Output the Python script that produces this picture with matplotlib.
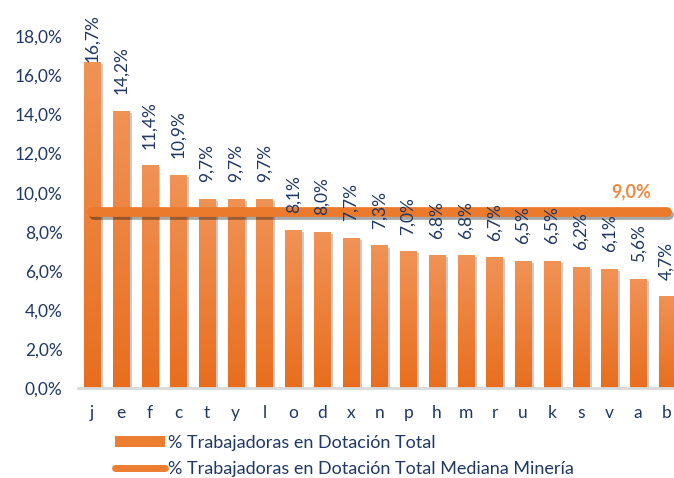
import numpy as np
import matplotlib
matplotlib.use('Agg')
import matplotlib.pyplot as plt
import matplotlib.patheffects as pe
from matplotlib.lines import Line2D
from matplotlib.patches import Patch

# datos
categorias = ['j', 'e', 'f', 'c', 't', 'y', 'l', 'o', 'd', 'x', 'n',
              'p', 'h', 'm', 'r', 'u', 'k', 's', 'v', 'a', 'b']
valores = [16.7, 14.2, 11.4, 10.9, 9.7, 9.7, 9.7, 8.1, 8.0, 7.7, 7.3,
           7.0, 6.8, 6.8, 6.7, 6.5, 6.5, 6.2, 6.1, 5.6, 4.7]
mediana = 9.0
y_ticks = [0, 2, 4, 6, 8, 10, 12, 14, 16, 18]

NAVY = '#1F3864'
ORANGE = '#ED7D31'

plt.rcParams['font.family'] = ['Lato', 'DejaVu Sans']

fig = plt.figure(figsize=(6.74, 4.78), dpi=100)
ax = fig.add_axes([0.1157, 0.188, 0.884, 0.736])

x = np.arange(len(categorias))
shadow = [pe.SimplePatchShadow(offset=(2, -1.5), alpha=0.25), pe.Normal()]
bars = ax.bar(x, valores, width=0.56, color=ORANGE, zorder=2, path_effects=shadow)

# degradado en las barras
grad = np.linspace(0, 1, 256).reshape(-1, 1)
cmap = matplotlib.colors.LinearSegmentedColormap.from_list('og', ['#E86E1E', '#F09356'])
for bar in bars:
    x0, y0 = bar.get_x(), bar.get_y()
    im = ax.imshow(grad, extent=(x0, x0 + bar.get_width(), y0, y0 + bar.get_height()),
                   origin='lower', cmap=cmap, aspect='auto', zorder=2.5)
    im.set_clip_path(bar)

# línea mediana
ax.plot(x, [mediana] * len(x), color='#EC7A2D', lw=7, solid_capstyle='round', zorder=3,
        path_effects=[pe.SimpleLineShadow(offset=(1.5, -2), alpha=0.35), pe.Normal()])
ax.text(x[-2] - 0.25, mediana + 0.6, f'{mediana:.1f}%'.replace('.', ','), color='#F08A40',
        fontsize=13, fontweight='bold', ha='center', va='bottom')

# etiquetas de datos
for xi, v in zip(x, valores):
    off = 0 if v > 16 else 12
    ax.annotate(f'{v:.1f}%'.replace('.', ','), (xi, v), xytext=(0, off),
                textcoords='offset points', rotation=90, ha='center', va='bottom',
                color=NAVY, fontsize=12.5, annotation_clip=False)

ax.set_xlim(-0.49, 20.24)
ax.set_ylim(0, 18)
ax.set_yticks(y_ticks)
ax.set_yticklabels([f'{t:.1f}%'.replace('.', ',') for t in y_ticks], color=NAVY, fontsize=12.5)
ax.set_xticks(x)
ax.set_xticklabels(categorias, color=NAVY, fontsize=12.5)
ax.tick_params(axis='both', length=0)
ax.tick_params(axis='x', pad=12)
ax.tick_params(axis='y', pad=11)
for s in ['top', 'right', 'left']:
    ax.spines[s].set_visible(False)
ax.spines['bottom'].set_color('#D9D9D9')
ax.spines['bottom'].set_linewidth(2)

handles = [Patch(facecolor=ORANGE, edgecolor='none'),
           Line2D([0], [0], color=ORANGE, lw=5, solid_capstyle='round')]
labels = ['% Trabajadoras en Dotación Total',
          '% Trabajadoras en Dotación Total Mediana Minería']
leg = fig.legend(handles, labels, loc='upper left', bbox_to_anchor=(0.17, 0.09),
                 frameon=False, fontsize=13, handlelength=2.8, handleheight=0.6,
                 handletextpad=0.15, labelspacing=0.55, borderaxespad=0, borderpad=0)
for t in leg.get_texts():
    t.set_color(NAVY)

fig.savefig('out.png', dpi=100)
